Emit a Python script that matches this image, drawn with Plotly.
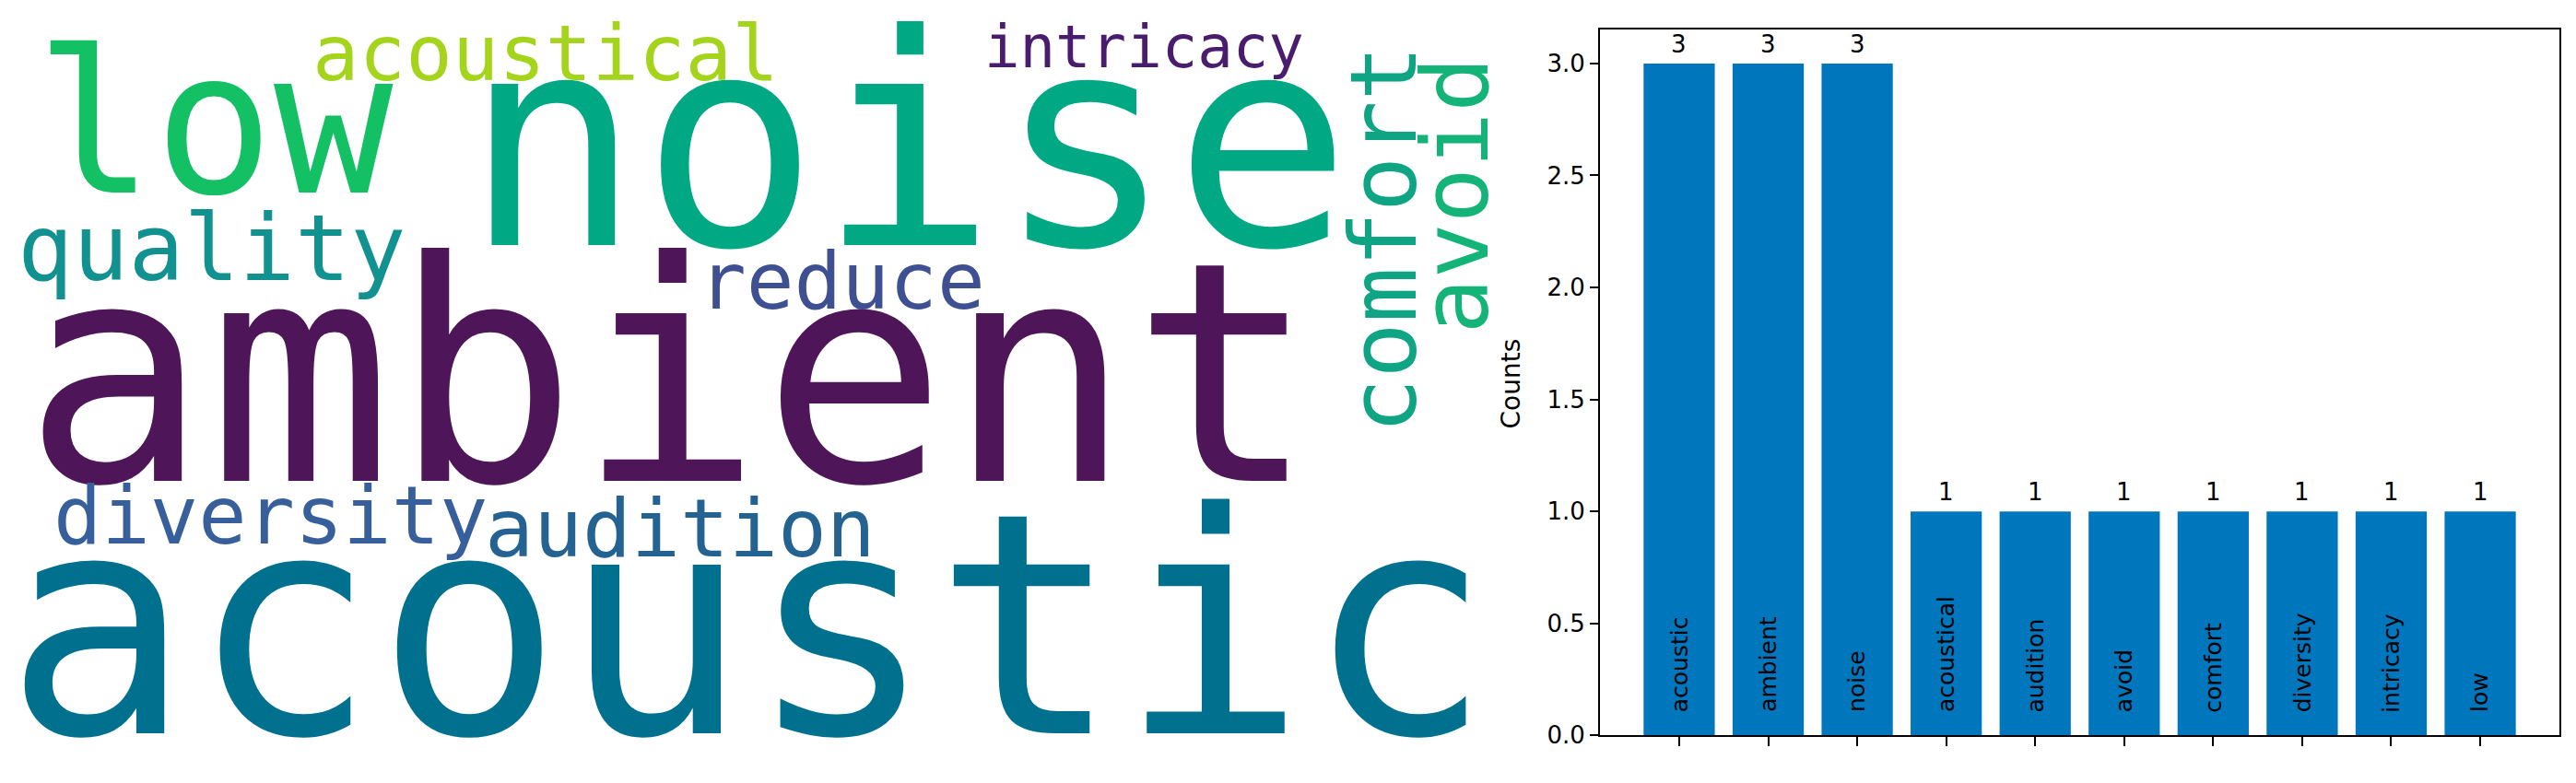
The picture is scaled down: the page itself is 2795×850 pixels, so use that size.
import plotly.graph_objects as go

W, H = 2795, 850

# top-10 word counts (bar chart)
words = ["acoustic", "ambient", "noise", "acoustical", "audition", "avoid",
         "comfort", "diversity", "intricacy", "low"]
counts = [3, 3, 3, 1, 1, 1, 1, 1, 1, 1]

# word cloud words and their colours
cloud_words = ["ambient", "acoustic", "noise", "low", "acoustical", "intricacy",
               "quality", "reduce", "diversity", "audition", "comfort", "avoid"]
cloud_colors = ["#4e1658", "#00708f", "#00a984", "#14c064", "#a5d41c", "#4a1c6e",
                "#129191", "#3e5091", "#375f9b", "#236291", "#0fa584", "#14b478"]

# placement of each cloud word in pixels: ink centre x / baseline y, font size, angle
# (for vertical words: baseline x, ink centre y)
cloud_pos = {
    "ambient":    (726, 530, 333, 0),
    "acoustic":   (812, 808, 335, 0),
    "noise":      (984, 268, 320, 0),
    "low":        (232, 211, 215, 0),
    "acoustical": (592, 88, 84, 0),
    "intricacy":  (1241, 74, 64, 0),
    "quality":    (229, 309, 100, 0),
    "reduce":     (913, 340, 86, 0),
    "diversity":  (293, 600, 87, 0),
    "audition":   (738, 614, 88, 0),
    "comfort":    (1536, 265, 100, -90),
    "avoid":      (1614, 216, 100, -90),
}

MONO = "DejaVu Sans Mono"
SANS = "DejaVu Sans"
MID = 0.346  # (ascent - descent) / 2 for DejaVu, in em

annotations = []
for w, c in zip(cloud_words, cloud_colors):
    a, b, fs, ang = cloud_pos[w]
    if ang == 0:
        cx, cy = a, b - MID * fs
    else:
        cx, cy = a - MID * fs, b
    annotations.append(dict(
        x=cx / W, y=1 - cy / H, xref="paper", yref="paper",
        text=w, showarrow=False, textangle=ang,
        xanchor="center", yanchor="middle",
        font=dict(family=MONO, size=fs, color=c),
    ))

# value labels above bars and word labels inside bars
for w, n in zip(words, counts):
    annotations.append(dict(
        x=w, y=n, xref="x", yref="y", text=str(n), showarrow=False,
        yanchor="bottom", yshift=4,
        font=dict(family=SANS, size=26, color="black"),
    ))
    annotations.append(dict(
        x=w, y=0, xref="x", yref="y", text=w, showarrow=False,
        textangle=-90, yanchor="bottom", yshift=23,
        font=dict(family=SANS, size=25, color="black"),
    ))

annotations.append(dict(
    x=1640 / W, y=1 - 424 / H, xref="paper", yref="paper",
    text="Counts", showarrow=False, textangle=-90,
    xanchor="center", yanchor="middle",
    font=dict(family=SANS, size=28, color="black"),
))

fig = go.Figure()
fig.add_trace(go.Bar(
    x=words, y=counts, width=0.8,
    marker=dict(color="#0076bd", line=dict(width=0)),
    hoverinfo="x+y",
))

fig.update_layout(
    width=W, height=H, autosize=False,
    margin=dict(l=0, r=0, t=0, b=0),
    paper_bgcolor="white", plot_bgcolor="white",
    showlegend=False,
    annotations=annotations,
    xaxis=dict(
        domain=[1736 / W, 2777 / W], range=[-0.89, 9.89],
        showticklabels=False, ticks="outside", ticklen=10, tickwidth=2,
        tickcolor="black", showgrid=False, zeroline=False,
        showline=True, linecolor="black", linewidth=2, mirror=True,
    ),
    yaxis=dict(
        domain=[1 - 812.7 / H, 1 - 33 / H], range=[0, 3.15],
        tickvals=[0, 0.5, 1, 1.5, 2, 2.5, 3], tickformat=".1f",
        ticks="outside", ticklen=9, tickwidth=2, tickcolor="black",
        tickfont=dict(family=SANS, size=26, color="black"),
        showgrid=False, zeroline=False,
        showline=True, linecolor="black", linewidth=2, mirror=True,
    ),
)

# drop the default page margin so the figure sits at the window's corner
fig.write_html(
    "out.html",
    config={"displayModeBar": False},
    post_script="document.body.style.margin='0';document.body.style.overflow='hidden';",
)
